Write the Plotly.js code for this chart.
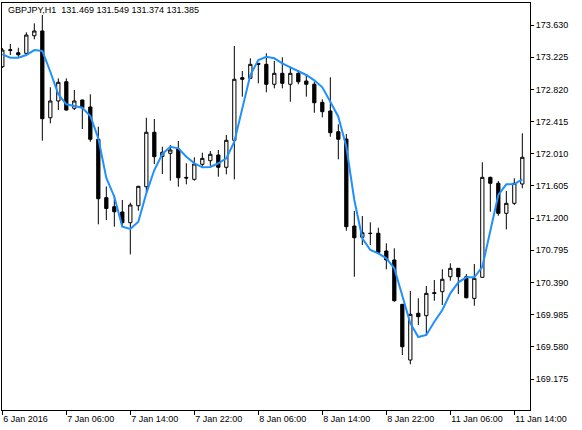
<!DOCTYPE html>
<html>
<head>
<meta charset="utf-8">
<script src="https://cdn.plot.ly/plotly-3.0.1.min.js"></script>
<style>html,body{margin:0;padding:0;background:#fff;}#chart{width:582px;height:430px;}</style>
</head>
<body>
<div id="chart"></div>
<script>
// ---- data (GBPJPY, H1) ----
const tickLabels = ["6 Jan 2016", "7 Jan 06:00", "7 Jan 14:00", "7 Jan 22:00", "8 Jan 06:00",
  "8 Jan 14:00", "8 Jan 22:00", "11 Jan 06:00", "11 Jan 14:00"];
const tickBars = [0, 8, 16, 24, 32, 40, 48, 56, 64];

const open = [
173.105, 173.310, 173.281, 173.274, 173.495, 173.555, 172.463, 172.674, 172.916, 172.582,
172.686, 172.598, 172.192, 171.457, 171.343, 171.277, 171.142, 171.356, 171.595, 172.280,
171.975, 172.015, 172.070, 171.712, 171.688, 171.877, 171.922, 171.994, 171.839, 172.179,
172.967, 172.959, 173.148, 173.135, 172.884, 173.022, 172.884, 173.022, 172.925, 172.884,
172.657, 172.548, 172.287, 172.195, 171.100, 170.958, 171.010, 171.009, 170.786, 170.673,
170.115, 169.414, 170.002, 169.972, 170.262, 170.274, 170.462, 170.568, 170.462, 170.190,
170.455, 171.713, 171.638, 171.260, 171.386, 171.629];

const high = [
173.341, 173.391, 173.344, 173.538, 173.651, 173.756, 172.846, 172.959, 172.959, 172.812,
172.690, 172.758, 172.350, 171.598, 171.491, 171.428, 171.394, 171.606, 172.463, 172.447,
172.098, 172.120, 172.170, 171.890, 171.965, 172.023, 172.044, 172.057, 172.246, 173.366,
173.051, 173.211, 173.152, 173.274, 173.177, 173.224, 173.105, 173.064, 173.001, 172.916,
172.695, 172.972, 172.380, 172.258, 171.289, 171.226, 171.147, 171.079, 170.883, 170.820,
170.119, 170.282, 170.191, 170.345, 170.421, 170.556, 170.631, 170.570, 170.496, 170.622,
171.902, 171.721, 171.667, 171.541, 171.701, 172.267];

const low = [
173.089, 173.252, 173.231, 173.252, 173.450, 172.174, 172.393, 172.560, 172.552, 172.560,
172.321, 172.161, 171.122, 171.176, 171.092, 171.092, 170.744, 171.293, 171.525, 171.881,
171.755, 171.671, 171.595, 171.625, 171.671, 171.847, 171.856, 171.721, 171.751, 171.688,
172.728, 172.954, 172.896, 172.783, 172.833, 172.833, 172.665, 172.884, 172.728, 172.526,
172.468, 172.224, 171.940, 171.041, 170.462, 170.861, 170.861, 170.757, 170.556, 170.148,
169.477, 169.360, 169.855, 169.722, 170.160, 170.106, 170.412, 170.245, 170.190, 170.097,
170.450, 171.280, 171.230, 171.059, 171.365, 171.575];

const close = [
173.315, 173.318, 173.256, 173.504, 173.555, 172.451, 172.674, 172.909, 172.560, 172.674,
172.589, 172.192, 171.444, 171.321, 171.280, 171.142, 171.365, 171.600, 172.280, 171.973,
172.028, 172.057, 171.708, 171.705, 171.881, 171.952, 172.003, 171.839, 172.179, 172.947,
172.947, 173.135, 173.135, 172.884, 173.022, 172.896, 173.022, 172.916, 172.884, 172.652,
172.539, 172.275, 172.192, 171.092, 170.953, 171.016, 171.006, 170.769, 170.673, 170.160,
169.581, 169.989, 169.959, 170.253, 170.252, 170.430, 170.568, 170.462, 170.198, 170.442,
171.713, 171.638, 171.260, 171.386, 171.638, 171.965];

const ma = [
173.261, 173.218, 173.218, 173.252, 173.315, 173.303, 173.042, 172.758, 172.632, 172.611,
172.589, 172.485, 172.204, 171.705, 171.469, 171.092, 171.063, 171.155, 171.512, 171.805,
172.007, 172.098, 172.078, 171.973, 171.890, 171.839, 171.843, 171.890, 171.952, 172.161,
172.602, 173.001, 173.190, 173.231, 173.211, 173.148, 173.098, 173.051, 173.001, 172.934,
172.846, 172.665, 172.476, 172.098, 171.428, 170.946, 170.798, 170.757, 170.694, 170.568,
170.232, 169.876, 169.704, 169.729, 169.896, 170.043, 170.253, 170.392, 170.455, 170.455,
170.588, 171.050, 171.491, 171.625, 171.629, 171.688];

const headerText = "GBPJPY,H1\u00a0\u00a0131.469 131.549 131.374 131.385";
const yTick0 = 169.175, yStep = 0.405;

// ---- chart ----
const bars = open.map((_, i) => i);
const FONT = {family: "Liberation Sans, Arial, sans-serif", size: 9, color: "#000"};

const traces = [
  {
    type: "candlestick", x: bars, open: open, high: high, low: low, close: close,
    whiskerwidth: 0,
    increasing: {line: {color: "#000", width: 1}, fillcolor: "#fff"},
    decreasing: {line: {color: "#000", width: 1}, fillcolor: "#000"},
    hoverinfo: "skip", showlegend: false
  },
  {
    type: "scatter", mode: "lines", x: bars, y: ma,
    line: {color: "#1E90FF", width: 2},
    hoverinfo: "skip", showlegend: false
  }
];

const layout = {
  width: 582, height: 430,
  margin: {l: 2, r: 52, t: 3, b: 20, pad: 0},
  paper_bgcolor: "#fff", plot_bgcolor: "#fff",
  font: FONT,
  showlegend: false,
  boxgap: 0.42,
  xaxis: {
    range: [-0.04, 65.96], showgrid: false, zeroline: false,
    showline: true, mirror: true, linecolor: "#000", linewidth: 1,
    ticks: "outside", ticklen: 4, tickcolor: "#000", tickwidth: 1,
    tickmode: "array", tickvals: tickBars, ticktext: tickLabels,
    ticklabelposition: "outside right",
    tickfont: FONT, rangeslider: {visible: false}, fixedrange: true
  },
  yaxis: {
    side: "right", range: [168.785, 173.907], showgrid: false, zeroline: false,
    showline: true, mirror: true, linecolor: "#000", linewidth: 1,
    ticks: "outside", ticklen: 3, tickcolor: "#000", tickwidth: 1,
    tickmode: "linear", tick0: yTick0, dtick: yStep, tickformat: ".3f",
    tickfont: FONT, fixedrange: true
  },
  annotations: [{
    xref: "paper", yref: "paper", x: 0.0076, y: 0.983,
    xanchor: "left", yanchor: "middle", showarrow: false,
    text: headerText, font: FONT
  }]
};

Plotly.newPlot("chart", traces, layout, {displayModeBar: false, staticPlot: true});
</script>
</body>
</html>
